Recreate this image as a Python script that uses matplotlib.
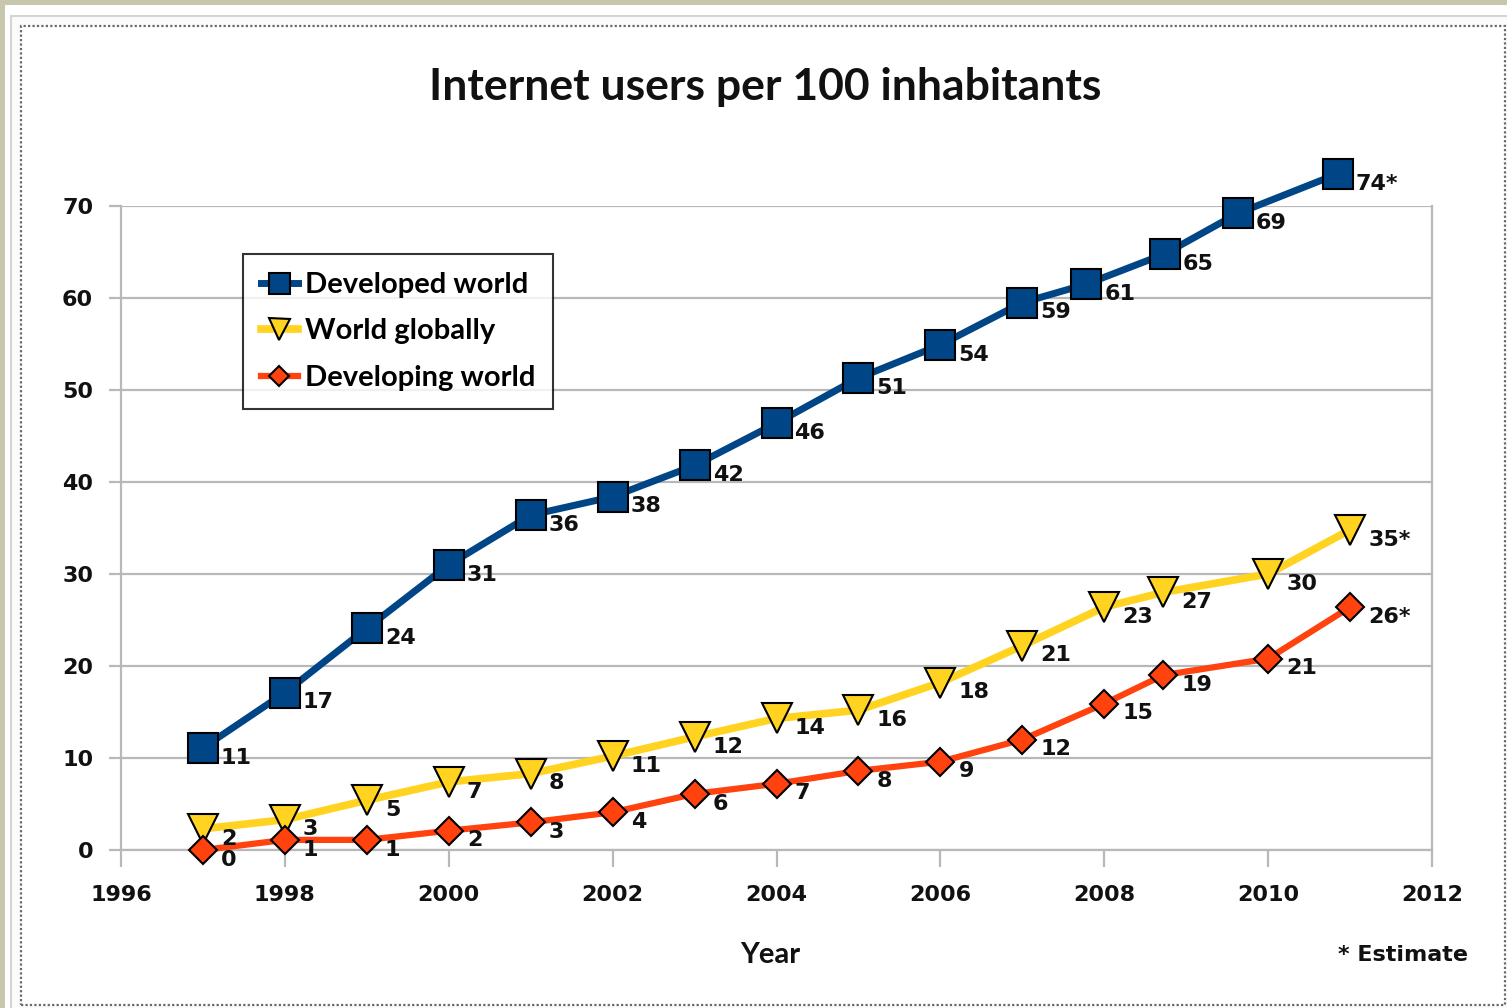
import matplotlib
matplotlib.use('Agg')
import matplotlib.pyplot as plt
from matplotlib.patches import Rectangle

# data (x = year, y = value as drawn, lab = printed label)
dev_x = [1997, 1998, 1999, 2000, 2001, 2002, 2003, 2004, 2005, 2006, 2007, 2007.78, 2008.74, 2009.63, 2010.85]
dev_y = [11.1, 17.1, 24.1, 31.0, 36.4, 38.4, 41.8, 46.4, 51.3, 54.9, 59.5, 61.5, 64.8, 69.2, 73.5]
dev_lab = ['11', '17', '24', '31', '36', '38', '42', '46', '51', '54', '59', '61', '65', '69', '74*']

glob_x = [1997, 1998, 1999, 2000, 2001, 2002, 2003, 2004, 2005, 2006, 2007, 2008, 2008.72, 2010, 2011]
glob_y = [2.3, 3.3, 5.4, 7.4, 8.3, 10.2, 12.3, 14.3, 15.2, 18.2, 22.2, 26.4, 28.0, 30.0, 34.8]
glob_lab = ['2', '3', '5', '7', '8', '11', '12', '14', '16', '18', '21', '23', '27', '30', '35*']

devg_x = glob_x
devg_y = [0.0, 1.1, 1.1, 2.1, 3.0, 4.1, 6.1, 7.2, 8.6, 9.6, 12.0, 15.9, 19.0, 20.8, 26.4]
devg_lab = ['0', '1', '1', '2', '3', '4', '6', '7', '8', '9', '12', '15', '19', '21', '26*']

W, H = 1507, 1008
fig = plt.figure(figsize=(W / 100, H / 100), dpi=100)
fig.patch.set_facecolor('#c8c7ae')

# white page + light frame + dotted border
fig.add_artist(Rectangle((5 / W, -0.01), 1.0, (H - 5) / H + 0.01, transform=fig.transFigure,
                         facecolor='white', edgecolor='none', zorder=0))
fig.add_artist(Rectangle((11 / W, -0.05), 1.1, (H - 16) / H + 0.05, transform=fig.transFigure,
                         facecolor='#fbfbfb', edgecolor='#d4d4d4', lw=1.5, zorder=0))
fig.add_artist(Rectangle((21 / W, 3 / H), (1505 - 21) / W, (1005 - 26) / H, transform=fig.transFigure,
                         facecolor='white', edgecolor='#6a6a6a', lw=1.6, ls=(0, (1, 1)), zorder=0))

ax = fig.add_axes([121 / W, 158 / H, (1432 - 121) / W, (850 - 206) / H])
ax.set_facecolor('white')
ax.set_xlim(1996, 2012)
ax.set_ylim(0, 70)

grid_c = '#b8b8b8'
ax.set_yticks(range(0, 71, 10))
ax.set_xticks(range(1996, 2013, 2))
ax.yaxis.grid(True, color=grid_c, lw=1.6)
ax.set_axisbelow(True)
for s in ax.spines.values():
    s.set_color(grid_c)
    s.set_linewidth(1.6)
ax.spines['top'].set_visible(False)
ax.tick_params(axis='x', direction='out', length=12, width=1.6, color=grid_c, pad=13)
ax.tick_params(axis='y', direction='out', length=9, width=1.6, color=grid_c, pad=11)
for t in ax.get_xticklabels() + ax.get_yticklabels():
    t.set_fontfamily('DejaVu Sans')
    t.set_fontweight('bold')
    t.set_fontsize(16)
    t.set_color('#111111')

blue = '#004586'
yellow = '#ffd320'
red = '#ff420e'

l1, = ax.plot(dev_x, dev_y, color=blue, lw=5, marker='s', ms=21, mfc=blue, mec='black',
              mew=1.5, clip_on=False, zorder=5, label='Developed world')
l2, = ax.plot(glob_x, glob_y, color=yellow, lw=5.5, marker='v', ms=21, mfc=yellow, mec='black',
              mew=1.5, clip_on=False, zorder=4, label='World globally')
l3, = ax.plot(devg_x, devg_y, color=red, lw=4.5, marker='D', ms=14, mfc=red, mec='black',
              mew=1.5, clip_on=False, zorder=4, label='Developing world')

for xs, ys, labs in [(dev_x, dev_y, dev_lab), (glob_x, glob_y, glob_lab), (devg_x, devg_y, devg_lab)]:
    for x, y, s in zip(xs, ys, labs):
        ax.annotate(s, (x, y), xytext=(13, -7), textcoords='offset points', ha='left', va='center',
                    fontsize=16, fontweight='bold', family='DejaVu Sans', color='#111111',
                    annotation_clip=False, zorder=6)

leg = fig.legend(handles=[l1, l2, l3], loc='upper left', bbox_to_anchor=(243 / W, 1 - 254 / H),
                 borderaxespad=0, frameon=True, fancybox=False, markerscale=0.72, handlelength=1.25,
                 handletextpad=0.25, borderpad=0.62, labelspacing=0.7,
                 prop={'family': 'Lato', 'weight': 'bold', 'size': 21})
leg.get_frame().set_edgecolor('black')
leg.get_frame().set_linewidth(1.5)

fig.text(765 / W, 1 - 87 / H, 'Internet users per 100 inhabitants', ha='center', va='center',
         fontsize=32, fontweight='bold', family='Lato', color='#111111')
fig.text(770 / W, 1 - 955 / H, 'Year', ha='center', va='center',
         fontsize=21, fontweight='bold', family='Lato', color='#111111')
fig.text(1468 / W, 1 - 955 / H, '* Estimate', ha='right', va='center',
         fontsize=16, fontweight='bold', family='DejaVu Sans', color='#111111')

fig.savefig('out.png', dpi=100, facecolor=fig.get_facecolor())
